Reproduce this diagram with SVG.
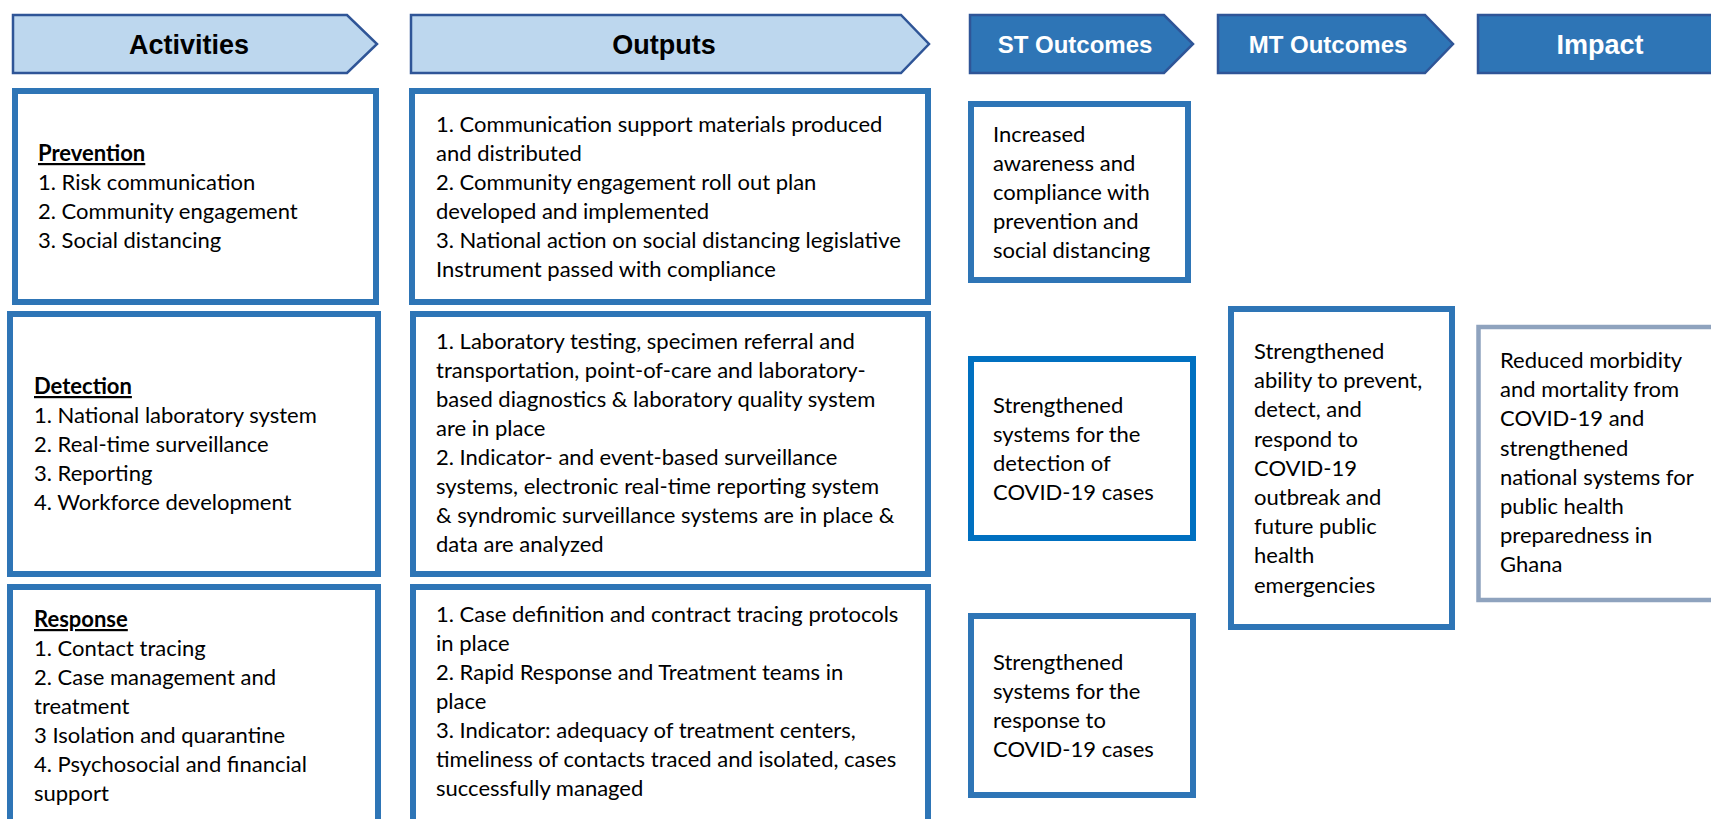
<svg xmlns="http://www.w3.org/2000/svg" width="1711" height="819" viewBox="0 0 1711 819">
  <style>
    .hdr-light { fill: #BDD7EE; stroke: #2F5597; stroke-width: 2.5; stroke-linejoin: miter; }
    .hdr-dark { fill: #2E75B6; stroke: #2F5597; stroke-width: 2.5; stroke-linejoin: miter; }
    .hdr-txt-dark { font-family: "Liberation Sans", Arial, sans-serif; font-weight: bold; font-size: 27px; fill: #000000; text-anchor: middle; }
    .hdr-txt-light { font-family: "Liberation Sans", Arial, sans-serif; font-weight: bold; font-size: 24px; fill: #FFFFFF; text-anchor: middle; }
    .box { fill: #FFFFFF; stroke: #2E75B6; stroke-width: 6; }
    .box-bright { fill: #FFFFFF; stroke: #0070C0; stroke-width: 6; }
    .box-grey { fill: #FFFFFF; stroke: #8FA3BE; stroke-width: 4.5; }
    .body { font-family: Lato, "Liberation Sans", sans-serif; font-size: 22px; fill: #000000; }
    .head { font-weight: bold; text-decoration: underline; }
  </style>

  <rect x="0" y="0" width="1711" height="819" fill="#FFFFFF"/>

  <!-- column headers (chevrons) -->
  <g id="hdr-activities">
    <polygon class="hdr-light" points="13,15 347,15 377,44 347,73 13,73"/>
    <text class="hdr-txt-dark" x="189" y="54">Activities</text>
  </g>
  <g id="hdr-outputs">
    <polygon class="hdr-light" points="411,15 901,15 929,44 901,73 411,73"/>
    <text class="hdr-txt-dark" x="664" y="54">Outputs</text>
  </g>
  <g id="hdr-st">
    <polygon class="hdr-dark" points="970,15 1164,15 1193,44 1164,73 970,73"/>
    <text class="hdr-txt-light" x="1075" y="53">ST Outcomes</text>
  </g>
  <g id="hdr-mt">
    <polygon class="hdr-dark" points="1218,15 1425,15 1453,44 1425,73 1218,73"/>
    <text class="hdr-txt-light" x="1328" y="53">MT Outcomes</text>
  </g>
  <g id="hdr-impact">
    <rect class="hdr-dark" x="1478" y="15" width="250" height="58"/>
    <text class="hdr-txt-light" x="1600" y="54" style="font-size:27px">Impact</text>
  </g>

  <!-- activities column -->
  <g id="act-prevention">
    <rect class="box" x="15" y="91" width="361" height="211"/>
    <text class="body" x="38" y="161">
      <tspan class="head" x="38">Prevention</tspan>
      <tspan x="38" dy="29">1. Risk communication</tspan>
      <tspan x="38" dy="29">2. Community engagement</tspan>
      <tspan x="38" dy="29">3. Social distancing</tspan>
    </text>
  </g>
  <g id="act-detection">
    <rect class="box" x="10" y="314" width="368" height="260"/>
    <text class="body" x="34" y="394">
      <tspan class="head" x="34">Detection</tspan>
      <tspan x="34" dy="29">1. National laboratory system</tspan>
      <tspan x="34" dy="29">2. Real-time surveillance</tspan>
      <tspan x="34" dy="29">3. Reporting</tspan>
      <tspan x="34" dy="29">4. Workforce development</tspan>
    </text>
  </g>
  <g id="act-response">
    <rect class="box" x="10" y="587" width="368" height="260"/>
    <text class="body" x="34" y="627">
      <tspan class="head" x="34">Response</tspan>
      <tspan x="34" dy="29">1. Contact tracing</tspan>
      <tspan x="34" dy="29">2. Case management and</tspan>
      <tspan x="34" dy="29">treatment</tspan>
      <tspan x="34" dy="29">3 Isolation and quarantine</tspan>
      <tspan x="34" dy="29">4. Psychosocial and financial</tspan>
      <tspan x="34" dy="29">support</tspan>
    </text>
  </g>

  <!-- outputs column -->
  <g id="out-prevention">
    <rect class="box" x="412" y="91" width="516" height="211"/>
    <text class="body" x="436" y="132">
      <tspan x="436">1. Communication support materials produced</tspan>
      <tspan x="436" dy="29">and distributed</tspan>
      <tspan x="436" dy="29">2. Community engagement roll out plan</tspan>
      <tspan x="436" dy="29">developed and implemented</tspan>
      <tspan x="436" dy="29">3. National action on social distancing legislative</tspan>
      <tspan x="436" dy="29">Instrument passed with compliance</tspan>
    </text>
  </g>
  <g id="out-detection">
    <rect class="box" x="413" y="314" width="515" height="260"/>
    <text class="body" x="436" y="349">
      <tspan x="436">1. Laboratory testing, specimen referral and</tspan>
      <tspan x="436" dy="29">transportation, point-of-care and laboratory-</tspan>
      <tspan x="436" dy="29">based diagnostics &amp; laboratory quality system</tspan>
      <tspan x="436" dy="29">are in place</tspan>
      <tspan x="436" dy="29">2. Indicator- and event-based surveillance</tspan>
      <tspan x="436" dy="29">systems, electronic real-time reporting system</tspan>
      <tspan x="436" dy="29">&amp; syndromic surveillance systems are in place &amp;</tspan>
      <tspan x="436" dy="29">data are analyzed</tspan>
    </text>
  </g>
  <g id="out-response">
    <rect class="box" x="413" y="587" width="515" height="260"/>
    <text class="body" x="436" y="622">
      <tspan x="436">1. Case definition and contract tracing protocols</tspan>
      <tspan x="436" dy="29">in place</tspan>
      <tspan x="436" dy="29">2. Rapid Response and Treatment teams in</tspan>
      <tspan x="436" dy="29">place</tspan>
      <tspan x="436" dy="29">3. Indicator: adequacy of treatment centers,</tspan>
      <tspan x="436" dy="29">timeliness of contacts traced and isolated, cases</tspan>
      <tspan x="436" dy="29">successfully managed</tspan>
    </text>
  </g>

  <!-- short-term outcomes -->
  <g id="st-prevention">
    <rect class="box" x="971" y="104" width="217" height="176"/>
    <text class="body" x="993" y="142">
      <tspan x="993">Increased</tspan>
      <tspan x="993" dy="29">awareness and</tspan>
      <tspan x="993" dy="29">compliance with</tspan>
      <tspan x="993" dy="29">prevention and</tspan>
      <tspan x="993" dy="29">social distancing</tspan>
    </text>
  </g>
  <g id="st-detection">
    <rect class="box-bright" x="971" y="359" width="222" height="179"/>
    <text class="body" x="993" y="413">
      <tspan x="993">Strengthened</tspan>
      <tspan x="993" dy="29">systems for the</tspan>
      <tspan x="993" dy="29">detection of</tspan>
      <tspan x="993" dy="29">COVID-19 cases</tspan>
    </text>
  </g>
  <g id="st-response">
    <rect class="box" x="971" y="616" width="222" height="179"/>
    <text class="body" x="993" y="670">
      <tspan x="993">Strengthened</tspan>
      <tspan x="993" dy="29">systems for the</tspan>
      <tspan x="993" dy="29">response to</tspan>
      <tspan x="993" dy="29">COVID-19 cases</tspan>
    </text>
  </g>

  <!-- medium-term outcome -->
  <g id="mt-outcome">
    <rect class="box" x="1231" y="309" width="221" height="318"/>
    <text class="body" x="1254" y="359">
      <tspan x="1254">Strengthened</tspan>
      <tspan x="1254" dy="29.2">ability to prevent,</tspan>
      <tspan x="1254" dy="29.2">detect, and</tspan>
      <tspan x="1254" dy="29.2">respond to</tspan>
      <tspan x="1254" dy="29.2">COVID-19</tspan>
      <tspan x="1254" dy="29.2">outbreak and</tspan>
      <tspan x="1254" dy="29.2">future public</tspan>
      <tspan x="1254" dy="29.2">health</tspan>
      <tspan x="1254" dy="29.2">emergencies</tspan>
    </text>
  </g>

  <!-- impact -->
  <g id="impact">
    <rect class="box-grey" x="1478.5" y="327" width="260" height="273"/>
    <text class="body" x="1500" y="368">
      <tspan x="1500">Reduced morbidity</tspan>
      <tspan x="1500" dy="29.2">and mortality from</tspan>
      <tspan x="1500" dy="29.2">COVID-19 and</tspan>
      <tspan x="1500" dy="29.2">strengthened</tspan>
      <tspan x="1500" dy="29.2">national systems for</tspan>
      <tspan x="1500" dy="29.2">public health</tspan>
      <tspan x="1500" dy="29.2">preparedness in</tspan>
      <tspan x="1500" dy="29.2">Ghana</tspan>
    </text>
  </g>
</svg>
